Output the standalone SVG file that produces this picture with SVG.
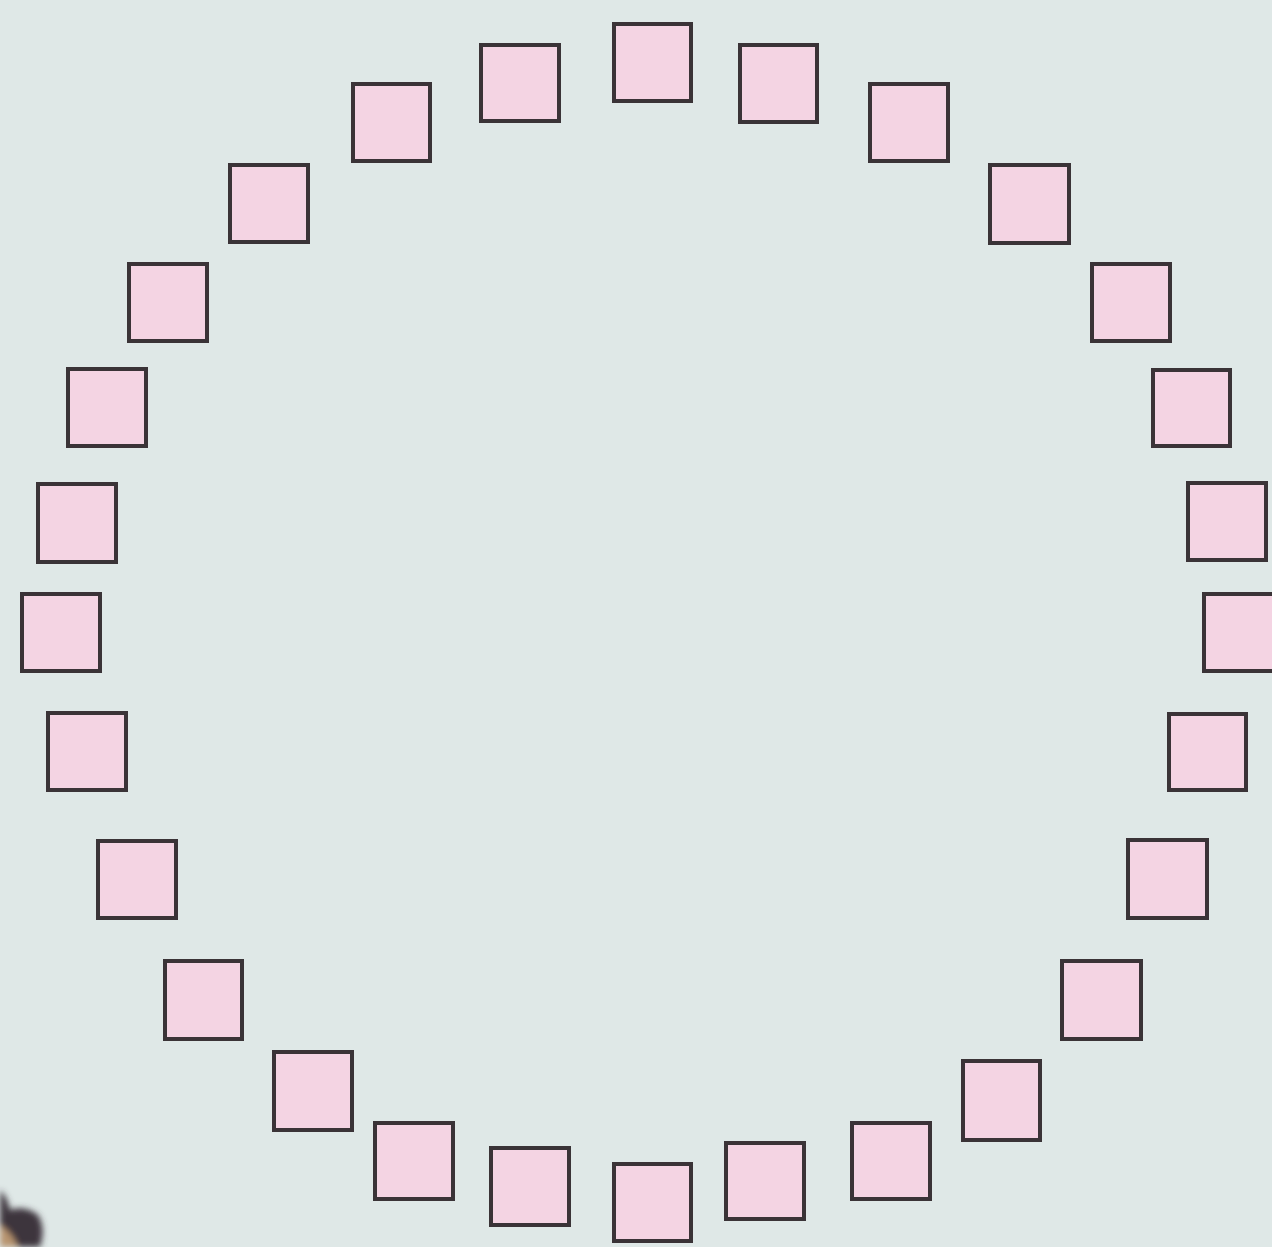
<svg xmlns="http://www.w3.org/2000/svg" width="1272" height="1247" viewBox="0 0 1272 1247">
<style>
.sq{fill:#f4d4e3;stroke:#3a3337;stroke-width:4}
</style>
<defs>
<filter id="blur" x="-50%" y="-50%" width="200%" height="200%"><feGaussianBlur stdDeviation="3"/></filter>
</defs>
<rect width="1272" height="1247" fill="#dfe8e7"/>
<g id="corner" filter="url(#blur)">
<path d="M0 1190 Q8 1198 10 1210 Q25 1205 38 1215 Q46 1228 40 1247 L0 1247 Z" fill="#3c343c"/>
<path d="M0 1225 Q12 1232 18 1247 L0 1247 Z" fill="#b89470"/>
</g>
<g id="connectors"></g>
<g id="n1"><rect class="sq" x="614" y="24" width="77" height="77"/></g>
<g id="n2"><rect class="sq" x="740" y="45" width="77" height="77"/></g>
<g id="n3"><rect class="sq" x="870" y="84" width="78" height="77"/></g>
<g id="n4"><rect class="sq" x="990" y="165" width="79" height="78"/></g>
<g id="n5"><rect class="sq" x="1092" y="264" width="78" height="77"/></g>
<g id="n6"><rect class="sq" x="1153" y="370" width="77" height="76"/></g>
<g id="n7"><rect class="sq" x="1188" y="483" width="78" height="77"/></g>
<g id="n8"><rect class="sq" x="1204" y="594" width="78" height="77"/></g>
<g id="n9"><rect class="sq" x="1169" y="714" width="77" height="76"/></g>
<g id="n10"><rect class="sq" x="1128" y="840" width="79" height="78"/></g>
<g id="n11"><rect class="sq" x="1062" y="961" width="79" height="78"/></g>
<g id="n12"><rect class="sq" x="963" y="1061" width="77" height="79"/></g>
<g id="n13"><rect class="sq" x="852" y="1123" width="78" height="76"/></g>
<g id="n14"><rect class="sq" x="726" y="1143" width="78" height="76"/></g>
<g id="n15"><rect class="sq" x="614" y="1164" width="77" height="77"/></g>
<g id="n16"><rect class="sq" x="491" y="1148" width="78" height="77"/></g>
<g id="n17"><rect class="sq" x="375" y="1123" width="78" height="76"/></g>
<g id="n18"><rect class="sq" x="274" y="1052" width="78" height="78"/></g>
<g id="n19"><rect class="sq" x="165" y="961" width="77" height="78"/></g>
<g id="n20"><rect class="sq" x="98" y="841" width="78" height="77"/></g>
<g id="n21"><rect class="sq" x="48" y="713" width="78" height="77"/></g>
<g id="n22"><rect class="sq" x="22" y="594" width="78" height="77"/></g>
<g id="n23"><rect class="sq" x="38" y="484" width="78" height="78"/></g>
<g id="n24"><rect class="sq" x="68" y="369" width="78" height="77"/></g>
<g id="n25"><rect class="sq" x="129" y="264" width="78" height="77"/></g>
<g id="n26"><rect class="sq" x="230" y="165" width="78" height="77"/></g>
<g id="n27"><rect class="sq" x="353" y="84" width="77" height="77"/></g>
<g id="n28"><rect class="sq" x="481" y="45" width="78" height="76"/></g>
</svg>
